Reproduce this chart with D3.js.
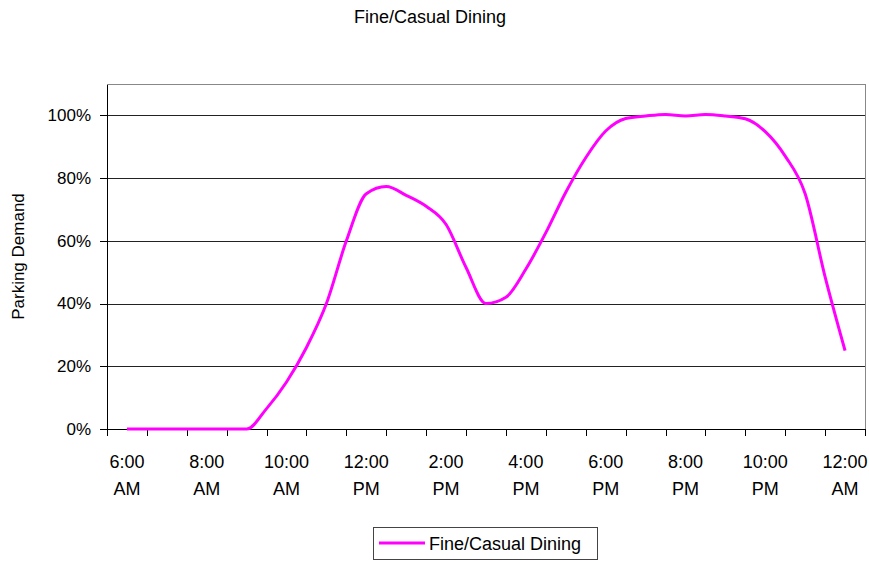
<!DOCTYPE html>
<html>
<head>
<meta charset="utf-8">
<script src="https://cdn.jsdelivr.net/npm/d3@7"></script>
<style>
  body { margin: 0; background: #fff; }
  text { font-family: "Liberation Sans", Arial, sans-serif; fill: #000; }
</style>
</head>
<body>
<div id="chart"></div>
<script>
// hour of day (24 = midnight) and parking demand in %
var hours = [6, 6.5, 7, 7.5, 8, 8.5, 9, 9.5, 10, 10.5, 11, 11.5, 12, 12.5, 13, 13.5, 14, 14.5,
  15, 15.5, 16, 16.5, 17, 17.5, 18, 18.5, 19, 19.5, 20, 20.5, 21, 21.5, 22, 22.5, 23, 23.5, 24]
var demand = [0, 0, 0, 0, 0, 0, 0, 6.5, 15, 26, 40, 60, 75, 77.3, 74.5, 71, 65.2, 51.5,
  40, 42, 51, 62.6, 75.5, 86.5, 95, 99, 99.8, 100.3, 99.8, 100.3, 99.8, 98.9, 94.8, 87, 75, 48.5, 25]
var labelHours = [6, 8, 10, 12, 14, 16, 18, 20, 22, 24]
var labelTime = ["6:00", "8:00", "10:00", "12:00", "2:00", "4:00", "6:00", "8:00", "10:00", "12:00"]
var labelAmPm = ["AM", "AM", "AM", "PM", "PM", "PM", "PM", "PM", "PM", "AM"]
var yTicks = [0, 20, 40, 60, 80, 100]
var seriesName = "Fine/Casual Dining"

var W = 869, H = 561
var margin = {top: 84, right: 4, bottom: 132, left: 107}
var w = W - margin.left - margin.right
var h = H - margin.top - margin.bottom

var svg = d3.select("#chart").append("svg")
  .attr("width", W)
  .attr("height", H)

svg.append("text")
  .attr("x", 430)
  .attr("y", 23)
  .attr("text-anchor", "middle")
  .attr("font-size", 18)
  .text(seriesName)

var g = svg.append("g").attr("transform", "translate(" + margin.left + "," + margin.top + ")")

var x = d3.scaleLinear().domain([5.5, 24.5]).range([0, w])
var y = d3.scaleLinear().domain([0, 110]).range([h, 0])

// gridlines
g.append("g")
  .attr("class", "grid")
  .call(d3.axisLeft(y).tickValues(yTicks.slice(1)).tickSize(-w).tickFormat(""))
  .call(function(s) {
    s.select(".domain").remove()
    s.selectAll("line").attr("stroke", "#222").attr("shape-rendering", "crispEdges")
  })

// top and right border
g.append("path")
  .attr("d", "M0,0H" + w + "V" + h)
  .attr("fill", "none")
  .attr("stroke", "#888")
  .attr("shape-rendering", "crispEdges")

// x axis tick marks
g.append("g")
  .attr("transform", "translate(0," + h + ")")
  .call(d3.axisBottom(x).tickValues(d3.range(5.5, 24.6, 1)).tickSize(7).tickSizeOuter(0).tickFormat(""))
  .call(function(s) {
    s.selectAll("line, path").attr("stroke", "#000").attr("shape-rendering", "crispEdges")
  })

// x labels, two lines each
var xl = g.append("g").selectAll("text")
  .data(labelHours)
  .enter()
  .append("text")
  .attr("text-anchor", "middle")
  .attr("font-size", 18)
xl.append("tspan")
  .attr("x", function(d) { return x(d) })
  .attr("y", h + 39)
  .text(function(d, i) { return labelTime[i] })
xl.append("tspan")
  .attr("x", function(d) { return x(d) })
  .attr("y", h + 66)
  .text(function(d, i) { return labelAmPm[i] })

// y axis
g.append("g")
  .call(d3.axisLeft(y).tickValues(yTicks).tickSize(7).tickSizeOuter(0).tickPadding(9)
    .tickFormat(function(d) { return d + "%" }))
  .call(function(s) {
    s.selectAll("line, path").attr("stroke", "#000").attr("shape-rendering", "crispEdges")
    s.selectAll("text").attr("font-size", 17).attr("font-family", "Liberation Sans, Arial, sans-serif").attr("fill", "#000")
  })

svg.append("text")
  .attr("transform", "translate(24," + (margin.top + h / 2) + ") rotate(-90)")
  .attr("text-anchor", "middle")
  .attr("font-size", 17)
  .text("Parking Demand")

var data = hours.map(function(d, i) { return {h: d, v: demand[i]} })

var line = d3.line()
  .x(function(d) { return x(d.h) })
  .y(function(d) { return y(d.v) })
  .curve(d3.curveMonotoneX)

g.append("path")
  .datum(data)
  .attr("fill", "none")
  .attr("stroke", "#ff00ff")
  .attr("stroke-width", 3)
  .attr("stroke-linejoin", "round")
  .attr("d", line)

// legend
var lg = svg.append("g").attr("transform", "translate(373,527)")
lg.append("rect")
  .attr("width", 224)
  .attr("height", 32)
  .attr("fill", "#fff")
  .attr("stroke", "#444")
  .attr("shape-rendering", "crispEdges")
lg.append("line")
  .attr("x1", 6).attr("x2", 52)
  .attr("y1", 16).attr("y2", 16)
  .attr("stroke", "#ff00ff")
  .attr("stroke-width", 3)
lg.append("text")
  .attr("x", 56)
  .attr("y", 23)
  .attr("font-size", 18)
  .text(seriesName)
</script>
</body>
</html>
